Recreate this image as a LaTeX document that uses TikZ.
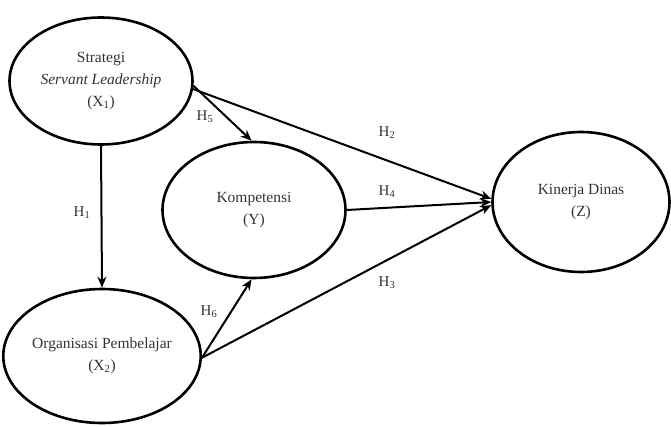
\documentclass[tikz,border=0pt]{standalone}
\usepackage{fontspec}
\setmainfont{Liberation Serif}
\usetikzlibrary{arrows.meta,shapes.geometric}

\begin{document}
\begin{tikzpicture}[x=1pt,y=-1pt,
    varnode/.style={ellipse, draw=black, line width=2.6pt, inner sep=0pt, align=center,
      font=\fontsize{15.5}{22}\selectfont, text=black!80},
    hlabel/.style={font=\fontsize{15}{17}\selectfont, text=black!80, inner sep=1pt},
    path/.style={line width=2pt, -{Stealth[length=11pt,width=9pt]}}
    ]
    \useasboundingbox (0,0) rectangle (671,427);

    \node [varnode, minimum width=183pt, minimum height=127pt] (x1) at (101, 81)
      {Strategi\\ \textit{Servant Leadership}\\ (X\textsubscript{1})};
    \node [varnode, minimum width=180pt, minimum height=134pt] (x2) at (102, 356)
      {Organisasi Pembelajar\\ (X\textsubscript{2})};
    \node [varnode, minimum width=183pt, minimum height=136pt] (y) at (254, 210)
      {Kompetensi\\ (Y)};
    \node [varnode, minimum width=177pt, minimum height=140pt] (z) at (581, 202)
      {Kinerja Dinas\\ (Z)};

    \draw [path] (x1.-3) -- (y.92);
    \draw [path] (x1.-5) -- (z.178);
    \draw [path] (y.east) -- (z.180);
    \draw [path] (x2.-1) -- (z.182);
    \draw [path] (x2.-1) -- (y.-92);
    \draw [path] (x1.south) -- (x2.north);

    \node [hlabel] (h1) at (82, 213) {H\textsubscript{1}};
    \node [hlabel] (h2) at (387, 133) {H\textsubscript{2}};
    \node [hlabel] (h3) at (387, 283) {H\textsubscript{3}};
    \node [hlabel] (h4) at (387, 192) {H\textsubscript{4}};
    \node [hlabel] (h5) at (205, 117) {H\textsubscript{5}};
    \node [hlabel] (h6) at (209, 312) {H\textsubscript{6}};
\end{tikzpicture}
\end{document}
